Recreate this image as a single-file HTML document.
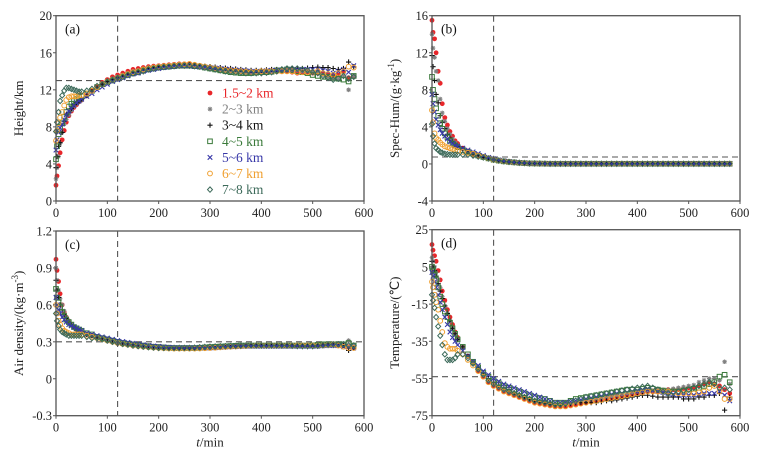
<!DOCTYPE html>
<html><head><meta charset="utf-8"><style>
html,body{margin:0;padding:0;background:#fff;}
svg{display:block;font-family:"Liberation Serif",serif;}
</style></head><body>
<svg id="chart" width="763" height="458" viewBox="0 0 763 458"></svg>
<script>
const times=[0,2,5,8,12,16,20,25,30,35,40,45,50,60,70,80,90,100,110,120,130,140,150,160,170,180,190,200,210,220,230,240,250,260,270,280,290,300,310,320,330,340,350,360,370,380,390,400,410,420,430,440,450,460,470,480,490,500,510,520,530,540,550,560,570,580];
const seriesNames=["1.5~2 km","2~3 km","3~4 km","4~5 km","5~6 km","6~7 km","7~8 km"];
// Panel a: height (km)
const hA1=[1.7,2.7,3.8,5.2,6.6,7.6,8.5,9.2,9.7,10.1,10.4,10.7,10.9,11.4,11.9,12.4,12.8,13.1,13.4,13.6,13.8,14.0,14.2,14.3,14.4,14.5,14.55,14.6,14.65,14.7,14.75,14.8,14.8,14.8,14.7,14.6,14.5,14.4,14.3,14.2,14.15,14.1,14.05,14.0,13.95,13.9,13.9,14.0,14.0,14.0,14.0,14.0,14.0,13.9,13.8,13.9,13.9,13.8,13.8,13.7,13.6,13.5,13.6,13.9,13.3,13.4];
const hA2=[2.4,3.6,4.8,6.2,7.4,8.3,8.8,9.3,9.8,10.2,10.5,10.7,10.9,11.3,11.8,12.2,12.6,12.9,13.2,13.4,13.6,13.8,14.0,14.1,14.2,14.4,14.45,14.5,14.55,14.6,14.65,14.7,14.7,14.7,14.6,14.5,14.4,14.3,14.2,14.1,14.05,14.0,13.95,13.9,13.9,13.9,13.9,14.0,14.0,14.0,14.05,14.1,14.1,14.1,14.1,14.0,14.0,14.0,13.9,13.6,13.4,13.2,13.1,13.6,12.0,13.5];
const hA3=[3.6,4.8,5.9,6.3,7.4,8.6,9.3,9.6,10.0,10.4,10.6,10.8,11.0,11.4,11.8,12.2,12.6,12.9,13.1,13.3,13.5,13.7,13.9,14.0,14.2,14.3,14.4,14.5,14.55,14.6,14.65,14.7,14.7,14.7,14.65,14.6,14.55,14.5,14.45,14.4,14.35,14.3,14.25,14.2,14.15,14.1,14.1,14.1,14.15,14.2,14.2,14.2,14.25,14.3,14.3,14.3,14.35,14.4,14.45,14.4,14.4,14.3,14.2,14.3,15.0,14.5];
const hA4=[4.5,5.9,7.2,8.0,8.4,9.1,9.6,10.2,10.5,10.8,11.0,11.2,11.3,11.6,11.9,12.3,12.6,12.8,13.0,13.2,13.4,13.6,13.8,13.9,14.1,14.2,14.3,14.4,14.45,14.5,14.55,14.6,14.6,14.6,14.55,14.5,14.4,14.3,14.2,14.1,14.0,13.9,13.85,13.8,13.8,13.8,13.85,13.9,13.9,13.95,14.1,14.1,14.2,14.1,14.0,13.9,13.8,13.6,13.5,13.4,13.4,13.3,13.2,13.1,12.9,13.5];
const hA5=[5.5,6.6,7.4,7.9,8.3,8.8,9.3,9.7,10.0,10.3,10.6,10.8,11.0,11.3,11.6,12.0,12.3,12.6,12.9,13.1,13.3,13.5,13.7,13.8,14.0,14.1,14.2,14.3,14.4,14.5,14.55,14.6,14.6,14.6,14.55,14.5,14.45,14.4,14.35,14.3,14.25,14.2,14.15,14.1,14.05,14.0,14.0,14.0,14.05,14.1,14.1,14.1,14.15,14.2,14.2,14.2,14.2,14.2,14.2,14.1,14.0,13.8,14.0,14.2,13.9,14.6];
const hA6=[6.5,7.6,8.4,9.0,9.6,10.3,10.9,11.2,11.3,11.3,11.3,11.4,11.4,11.6,11.9,12.3,12.6,12.9,13.1,13.3,13.5,13.7,13.9,14.0,14.2,14.3,14.4,14.5,14.55,14.6,14.65,14.7,14.75,14.8,14.7,14.6,14.5,14.4,14.3,14.2,14.15,14.1,14.05,14.0,13.95,13.9,13.95,14.0,14.0,14.0,14.0,14.0,14.0,14.0,13.9,13.9,13.9,13.9,14.0,13.8,13.7,13.6,13.8,14.0,14.5,14.4];
const hA7=[7.5,8.5,9.6,10.8,11.4,11.9,12.2,12.2,12.1,12.0,11.9,11.8,11.8,11.9,12.1,12.4,12.6,12.9,13.1,13.3,13.4,13.6,13.75,13.9,14.0,14.2,14.3,14.4,14.45,14.5,14.55,14.6,14.6,14.6,14.55,14.5,14.4,14.3,14.2,14.1,14.0,13.95,13.9,13.85,13.8,13.8,13.8,13.8,13.85,13.9,14.0,14.2,14.3,14.3,14.3,14.2,14.1,13.9,13.8,13.5,13.3,13.1,13.2,13.5,13.2,13.4];
// Panel b: specific humidity (g/kg)
const qB1=[15.5,14.2,13.5,12.0,10.0,8.7,6.5,5.0,4.2,3.5,3.0,2.5,2.2,1.7,1.4,1.1,0.9,0.7,0.6,0.45,0.36,0.28,0.22,0.17,0.12,0.09,0.06,0.05,0.04,0.03,0.02,0.02,0.02,0.02,0.02,0.02,0.02,0.02,0.02,0.02,0.02,0.02,0.02,0.02,0.02,0.02,0.02,0.02,0.02,0.02,0.02,0.02,0.02,0.02,0.02,0.02,0.02,0.02,0.02,0.02,0.02,0.02,0.02,0.02,0.02,0.02];
const qB2=[14.0,12.5,11.5,10.0,9.0,7.0,5.5,4.6,3.8,3.2,2.7,2.3,2.0,1.6,1.3,1.1,0.9,0.7,0.55,0.45,0.36,0.28,0.22,0.17,0.12,0.09,0.06,0.05,0.04,0.03,0.02,0.02,0.02,0.02,0.02,0.02,0.02,0.02,0.02,0.02,0.02,0.02,0.02,0.02,0.02,0.02,0.02,0.02,0.02,0.02,0.02,0.02,0.02,0.02,0.02,0.02,0.02,0.02,0.02,0.02,0.02,0.02,0.02,0.02,0.02,0.02];
const qB3=[11.7,10.5,9.0,7.5,6.6,5.2,4.5,3.8,3.2,2.8,2.4,2.1,1.9,1.6,1.3,1.1,0.9,0.7,0.55,0.45,0.36,0.28,0.22,0.17,0.12,0.09,0.06,0.05,0.04,0.03,0.02,0.02,0.02,0.02,0.02,0.02,0.02,0.02,0.02,0.02,0.02,0.02,0.02,0.02,0.02,0.02,0.02,0.02,0.02,0.02,0.02,0.02,0.02,0.02,0.02,0.02,0.02,0.02,0.02,0.02,0.02,0.02,0.02,0.02,0.02,0.02];
const qB4=[9.4,8.0,7.0,6.0,5.2,4.4,3.8,3.3,2.9,2.5,2.2,2.0,1.8,1.5,1.3,1.1,0.9,0.75,0.6,0.45,0.36,0.28,0.22,0.17,0.12,0.09,0.06,0.05,0.04,0.03,0.02,0.02,0.02,0.02,0.02,0.02,0.02,0.02,0.02,0.02,0.02,0.02,0.02,0.02,0.02,0.02,0.02,0.02,0.02,0.02,0.02,0.02,0.02,0.02,0.02,0.02,0.02,0.02,0.02,0.02,0.02,0.02,0.02,0.02,0.02,0.02];
const qB5=[7.5,6.5,5.6,4.8,4.2,3.7,3.3,3.0,2.7,2.4,2.2,2.0,1.9,1.7,1.5,1.3,1.1,0.9,0.7,0.55,0.42,0.32,0.24,0.18,0.13,0.09,0.07,0.05,0.04,0.03,0.02,0.02,0.02,0.02,0.02,0.02,0.02,0.02,0.02,0.02,0.02,0.02,0.02,0.02,0.02,0.02,0.02,0.02,0.02,0.02,0.02,0.02,0.02,0.02,0.02,0.02,0.02,0.02,0.02,0.02,0.02,0.02,0.02,0.02,0.02,0.02];
const qB6=[5.8,4.5,3.3,2.8,2.6,2.3,2.1,1.9,1.8,1.7,1.6,1.5,1.4,1.3,1.2,1.1,0.9,0.75,0.6,0.45,0.36,0.28,0.22,0.17,0.12,0.09,0.06,0.05,0.04,0.03,0.02,0.02,0.02,0.02,0.02,0.02,0.02,0.02,0.02,0.02,0.02,0.02,0.02,0.02,0.02,0.02,0.02,0.02,0.02,0.02,0.02,0.02,0.02,0.02,0.02,0.02,0.02,0.02,0.02,0.02,0.02,0.02,0.02,0.02,0.02,0.02];
const qB7=[4.3,3.0,2.2,1.7,1.5,1.3,1.2,1.1,1.05,1.0,1.0,1.0,1.0,1.0,1.0,0.9,0.8,0.7,0.6,0.45,0.36,0.28,0.22,0.17,0.12,0.09,0.06,0.05,0.04,0.03,0.02,0.02,0.02,0.02,0.02,0.02,0.02,0.02,0.02,0.02,0.02,0.02,0.02,0.02,0.02,0.02,0.02,0.02,0.02,0.02,0.02,0.02,0.02,0.02,0.02,0.02,0.02,0.02,0.02,0.02,0.02,0.02,0.02,0.02,0.02,0.02];
// Panel c: air density (kg/m3)
const dC1=[0.97,0.88,0.79,0.69,0.60,0.54,0.50,0.47,0.44,0.42,0.40,0.39,0.38,0.36,0.35,0.34,0.33,0.32,0.31,0.30,0.29,0.285,0.28,0.275,0.27,0.265,0.26,0.258,0.255,0.252,0.25,0.25,0.25,0.25,0.25,0.25,0.25,0.252,0.255,0.258,0.26,0.262,0.264,0.266,0.268,0.27,0.27,0.27,0.27,0.27,0.27,0.27,0.27,0.27,0.27,0.27,0.27,0.27,0.27,0.27,0.275,0.28,0.28,0.27,0.26,0.25];
const dC2=[0.90,0.80,0.72,0.65,0.60,0.55,0.50,0.47,0.44,0.42,0.40,0.39,0.38,0.36,0.35,0.34,0.33,0.32,0.31,0.30,0.292,0.286,0.28,0.275,0.27,0.266,0.262,0.258,0.255,0.252,0.25,0.25,0.25,0.25,0.25,0.25,0.252,0.254,0.256,0.258,0.26,0.262,0.264,0.266,0.268,0.27,0.27,0.27,0.27,0.27,0.27,0.27,0.272,0.272,0.272,0.27,0.27,0.272,0.275,0.28,0.28,0.28,0.28,0.28,0.31,0.27];
const dC3=[0.80,0.72,0.66,0.60,0.56,0.52,0.49,0.46,0.44,0.42,0.40,0.39,0.38,0.36,0.35,0.34,0.33,0.32,0.31,0.30,0.292,0.286,0.28,0.275,0.27,0.266,0.262,0.258,0.255,0.252,0.25,0.25,0.25,0.25,0.25,0.25,0.25,0.252,0.254,0.256,0.258,0.26,0.262,0.264,0.265,0.266,0.266,0.266,0.266,0.266,0.266,0.265,0.265,0.265,0.265,0.265,0.265,0.265,0.265,0.268,0.27,0.27,0.27,0.27,0.23,0.25];
const dC4=[0.73,0.66,0.62,0.58,0.54,0.51,0.48,0.46,0.44,0.42,0.41,0.40,0.39,0.37,0.36,0.34,0.33,0.32,0.31,0.30,0.29,0.285,0.28,0.275,0.27,0.265,0.26,0.258,0.255,0.252,0.25,0.25,0.25,0.25,0.25,0.252,0.255,0.258,0.26,0.262,0.264,0.266,0.268,0.27,0.27,0.27,0.27,0.27,0.27,0.27,0.27,0.27,0.27,0.27,0.27,0.27,0.27,0.272,0.275,0.28,0.28,0.28,0.28,0.28,0.29,0.27];
const dC5=[0.66,0.60,0.56,0.53,0.50,0.48,0.46,0.44,0.43,0.42,0.41,0.40,0.39,0.37,0.36,0.35,0.34,0.33,0.32,0.31,0.302,0.295,0.288,0.282,0.276,0.27,0.266,0.262,0.258,0.255,0.252,0.25,0.25,0.25,0.25,0.25,0.25,0.25,0.252,0.255,0.258,0.26,0.262,0.264,0.265,0.265,0.265,0.265,0.265,0.265,0.265,0.265,0.265,0.265,0.265,0.265,0.265,0.265,0.265,0.268,0.27,0.27,0.27,0.26,0.26,0.25];
const dC6=[0.60,0.53,0.47,0.44,0.41,0.39,0.38,0.37,0.36,0.36,0.36,0.36,0.36,0.35,0.34,0.33,0.32,0.31,0.30,0.29,0.283,0.277,0.27,0.265,0.26,0.256,0.253,0.25,0.248,0.246,0.245,0.245,0.245,0.245,0.245,0.246,0.248,0.25,0.252,0.255,0.258,0.26,0.262,0.264,0.266,0.268,0.27,0.27,0.27,0.27,0.27,0.27,0.27,0.27,0.27,0.27,0.27,0.27,0.27,0.272,0.275,0.28,0.27,0.26,0.25,0.25];
const dC7=[0.53,0.47,0.43,0.40,0.38,0.37,0.36,0.35,0.35,0.35,0.35,0.35,0.35,0.34,0.33,0.33,0.32,0.31,0.30,0.29,0.283,0.277,0.27,0.265,0.26,0.256,0.253,0.25,0.25,0.25,0.25,0.25,0.25,0.25,0.252,0.255,0.258,0.26,0.262,0.264,0.265,0.266,0.267,0.268,0.27,0.27,0.27,0.27,0.27,0.27,0.27,0.27,0.27,0.268,0.266,0.265,0.265,0.265,0.268,0.272,0.276,0.28,0.28,0.28,0.27,0.27];
// Panel d: temperature (°C)
const tD1=[17,14,11,8,3,-2,-8,-13,-18,-22,-26,-30,-33,-38,-43,-47,-51,-54,-57,-59,-60.5,-62,-63,-64,-65,-66,-67,-68,-68.5,-69,-69.5,-70,-70,-70,-69.5,-69,-68.5,-68,-67.5,-67,-66.5,-66,-65.5,-65,-64.5,-64,-63.5,-63,-62.5,-62,-62,-62,-61.5,-61,-61,-61,-60.5,-60,-60,-59,-58,-57,-58,-59,-61,-63];
const tD2=[10,8,5,2,-2,-6,-11,-16,-20,-24,-28,-31,-34,-38,-43,-47,-50,-53,-56,-58,-59.5,-61,-62,-63,-64,-65,-66,-67,-67.5,-68,-68.5,-69,-69,-69,-68.5,-68,-67.5,-67,-66.5,-66,-65.5,-65,-64.5,-64,-63.5,-63,-62.5,-62,-62,-61.5,-61.5,-61,-61,-61,-60.5,-60,-59.5,-59,-58.5,-57,-56,-55,-55,-56,-46,-58];
const tD3=[8,5,3,0,-4,-8,-12,-16,-20,-24,-28,-31,-34,-38,-43,-46,-49,-52,-55,-57,-58.5,-60,-61,-62.5,-63.5,-65,-66,-67,-67.5,-68,-68.5,-69,-69,-69,-68.5,-68,-68,-68,-68,-68,-67.5,-67,-67,-66.5,-66,-65.5,-65,-64.5,-64,-64,-64.5,-65,-65,-65,-65,-65,-66,-66,-66,-65,-65,-64,-64,-63,-72,-65];
const tD4=[5,3,1,-2,-6,-11,-15,-19,-22,-25,-28,-31,-34,-38,-42,-46,-49,-52,-54,-56,-57.5,-59,-60,-61,-62,-63,-64,-65,-65.5,-66,-67,-68,-68,-68,-67,-66,-65.5,-65,-64.5,-64,-63.5,-63,-62.5,-62,-61.5,-61,-61,-61,-60.5,-60,-60.5,-61,-61.5,-62,-62,-62,-61.5,-61,-60.5,-60,-59,-58,-57,-54,-53,-57];
const tD5=[2,0,-3,-6,-10,-14,-18,-22,-26,-30,-33,-35,-37,-40,-43,-46,-48,-51,-53,-55,-56.5,-58,-59,-60,-61,-62,-63,-64,-65,-66,-67,-68,-68,-68,-67.5,-67,-66.5,-66,-65.5,-65,-64.5,-64,-63.5,-63,-63,-62.5,-62,-62,-61.5,-61,-61.5,-62,-62.5,-63,-63.5,-64,-64,-64,-64,-63.5,-63,-63,-63,-62,-64,-67];
const tD6=[-3,-6,-10,-14,-18,-24,-30,-36,-38,-39,-39,-39,-40,-42,-45,-48,-51,-54,-57,-59,-60.5,-62,-63,-64,-65,-66,-67,-68,-68.5,-69,-69.5,-70,-70,-70,-69.5,-69,-68.5,-68,-67.5,-67,-66.5,-66,-65.5,-65,-64.5,-64,-63.5,-63,-62.5,-62,-62,-62,-62,-62,-62.5,-63,-63,-63,-63,-62.5,-62,-60,-59,-62,-66,-66];
const tD7=[-10,-13,-17,-22,-27,-32,-37,-42,-45,-45,-45,-44,-42,-42,-44,-47,-50,-53,-56,-58,-59.5,-61,-62,-63,-64,-65,-66,-67,-67.5,-68,-68.5,-69,-69,-68.5,-67.5,-67,-66,-65,-64.5,-64,-63.5,-63,-62.5,-62,-61.5,-61,-60.5,-60,-59.5,-59,-60,-61,-62,-63,-62.5,-62,-61.5,-61,-60,-59,-58,-57,-58,-60,-60,-61];
const xTicks=[0,100,200,300,400,500,600];
const yTicksA=[0,4,8,12,16,20];
const yTicksB=[-4,0,4,8,12,16];
const yTicksC=["-0.3","0","0.3","0.6","0.9","1.2"];
const yTicksD=[-75,-55,-35,-15,5,25];

const NS="http://www.w3.org/2000/svg";
const svg=document.getElementById('chart');
const colors=["#e8262a","#808080","#111111","#3a7a3a","#3838a8","#f0a030","#3d6a5a"];
function mk(tag,attrs,parent){const e=document.createElementNS(NS,tag);for(const k in attrs)e.setAttribute(k,attrs[k]);(parent||svg).appendChild(e);return e;}
function marker(g,kind,x,y,c){
  let e;
  if(kind===0){e=mk('circle',{cx:x,cy:y,r:2.4,fill:c},g);}
  else if(kind===1){e=mk('path',{d:`M${x-2.3},${y}H${x+2.3}M${x},${y-2.3}V${y+2.3}M${x-1.7},${y-1.7}L${x+1.7},${y+1.7}M${x-1.7},${y+1.7}L${x+1.7},${y-1.7}`,stroke:c,'stroke-width':1,fill:'none'},g);}
  else if(kind===2){e=mk('path',{d:`M${x-2.6},${y}H${x+2.6}M${x},${y-2.6}V${y+2.6}`,stroke:c,'stroke-width':1.1,fill:'none'},g);}
  else if(kind===3){e=mk('rect',{x:x-2.3,y:y-2.3,width:4.6,height:4.6,stroke:c,'stroke-width':1,fill:'none'},g);}
  else if(kind===4){e=mk('path',{d:`M${x-2.3},${y-2.3}L${x+2.3},${y+2.3}M${x-2.3},${y+2.3}L${x+2.3},${y-2.3}`,stroke:c,'stroke-width':1.1,fill:'none'},g);}
  else if(kind===5){e=mk('circle',{cx:x,cy:y,r:2.4,stroke:c,'stroke-width':1,fill:'none'},g);}
  else {e=mk('path',{d:`M${x},${y-2.7}L${x+2.5},${y}L${x},${y+2.7}L${x-2.5},${y}Z`,stroke:c,'stroke-width':1,fill:'none'},g);}
  return e;
}
function panel(cfg){
  const g=mk('g',{});
  
  
  const X=v=>cfg.x0+(v-0)/600*(cfg.x1-cfg.x0);
  const Y=v=>cfg.yb+(v-cfg.ymin)/(cfg.ymax-cfg.ymin)*(cfg.yt-cfg.yb);
  const rl=mk('line',{x1:cfg.x0,x2:cfg.x1,y1:Y(cfg.href),y2:Y(cfg.href),stroke:'#555','stroke-width':1.1,'stroke-dasharray':'6,4'},g);
  
  
  for(let s=0;s<cfg.series.length;s++){
    const sg=mk('g',{},g);
    
    
    const arr=cfg.series[s];
    for(let i=0;i<times.length;i++){
      if(arr[i]==null)continue;
      const m=marker(sg,s,X(times[i]),Y(arr[i]),colors[s]);
      
      
    }
  }
  const vl=mk('line',{x1:X(120),x2:X(120),y1:cfg.yt,y2:cfg.yb,stroke:'#555','stroke-width':1.1,'stroke-dasharray':'6,4'},g);
  
  
  const fr=mk('rect',{x:cfg.x0,y:cfg.yt,width:cfg.x1-cfg.x0,height:cfg.yb-cfg.yt,fill:'none',stroke:'#555','stroke-width':1.3},g);
  
  
  xTicks.forEach(t=>{
    mk('line',{x1:X(t),x2:X(t),y1:cfg.yb,y2:cfg.yb+3,stroke:'#555'},g);
    const tx=mk('text',{x:X(t),y:cfg.yb+16,'text-anchor':'middle','font-size':12.5,fill:'#222'},g);
    tx.textContent=t;
    
    
  });
  cfg.yticks.forEach(t=>{
    const v=parseFloat(t);
    mk('line',{x1:cfg.x0-3,x2:cfg.x0,y1:Y(v),y2:Y(v),stroke:'#555'},g);
    const tx=mk('text',{x:cfg.x0-4,y:Y(v)+4.5,'text-anchor':'end','font-size':12.5,fill:'#222'},g);
    tx.textContent=t;
    
    
  });
  const lb=mk('text',{x:cfg.x0+9,y:cfg.yt+18,'font-size':13.5,fill:'#111'},g);
  lb.textContent=cfg.label;
  
  
  const yt=mk('text',{x:0,y:0,'text-anchor':'middle','font-size':13,fill:'#222',transform:`translate(${cfg.x0-33},${(cfg.yt+cfg.yb)/2}) rotate(-90)`},g);
  yt.innerHTML=cfg.ytitle;
  
  
  if(cfg.xtitle){
    const xt=mk('text',{x:(cfg.x0+cfg.x1)/2,y:cfg.yb+31,'text-anchor':'middle','font-size':13,fill:'#222'},g);
    xt.innerHTML='<tspan font-style="italic">t</tspan>/min';
    
    
  }
  return {g,X,Y};
}
panel({name:'panel-a-height',x0:56,x1:364,yt:15.7,yb:201,ymin:0,ymax:20,href:13,yticks:yTicksA,label:'(a)',ytitle:'Height/km',series:[hA1,hA2,hA3,hA4,hA5,hA6,hA7]});
panel({name:'panel-b-spec-hum',x0:432,x1:740,yt:15.7,yb:201,ymin:-4,ymax:16,href:0.75,yticks:yTicksB,label:'(b)',ytitle:'Spec-Hum/(g·kg<tspan dy="-5" font-size="9">-1</tspan><tspan dy="5">)</tspan>',series:[qB1,qB2,qB3,qB4,qB5,qB6,qB7]});
panel({name:'panel-c-air-density',x0:56,x1:364,yt:231,yb:415.7,ymin:-0.3,ymax:1.2,href:0.3,yticks:yTicksC,label:'(c)',ytitle:'Air density/(kg·m<tspan dy="-5" font-size="9">-3</tspan><tspan dy="5">)</tspan>',xtitle:true,series:[dC1,dC2,dC3,dC4,dC5,dC6,dC7]});
panel({name:'panel-d-temperature',x0:432,x1:740,yt:229.7,yb:415.7,ymin:-75,ymax:25,href:-54,yticks:yTicksD,label:'(d)',ytitle:'Temperature/(℃)',xtitle:true,series:[tD1,tD2,tD3,tD4,tD5,tD6,tD7]});
const lg=mk('g',{});


seriesNames.forEach((n,i)=>{
  const y=93+i*16.1;
  const e=mk('g',{},lg);
  
  
  marker(e,i,210,y,colors[i]);
  const t=mk('text',{x:222,y:y+4.5,'font-size':13.5,fill:colors[i]},e);
  t.textContent=n;
});
</script>
</body></html>
